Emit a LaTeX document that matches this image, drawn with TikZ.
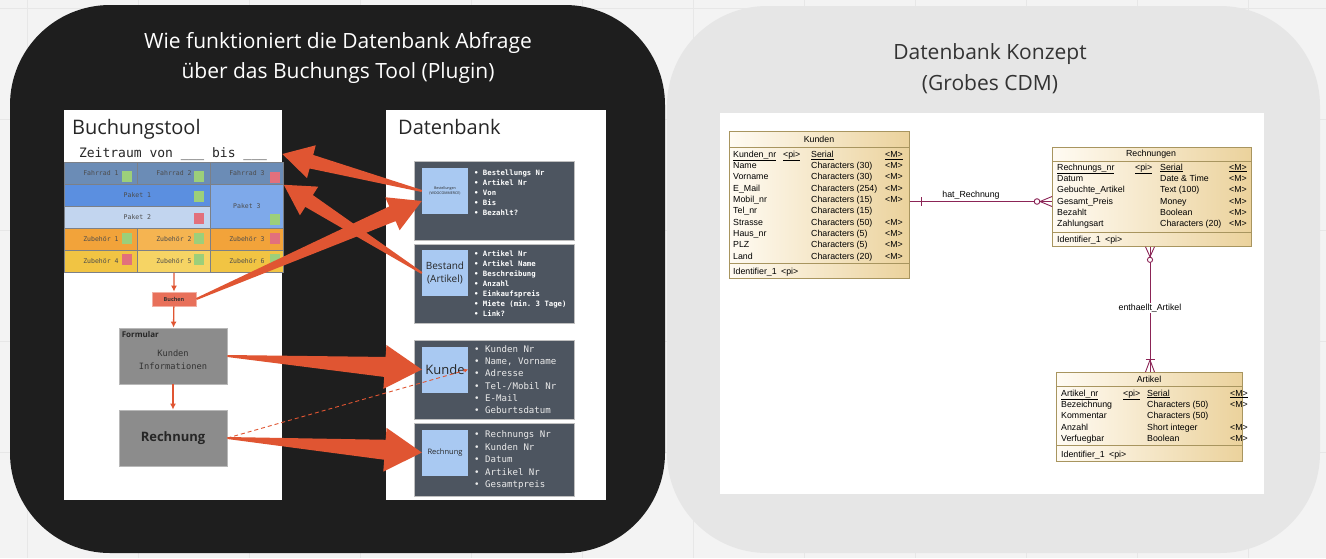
\documentclass[tikz,border=0pt]{standalone}
\usepackage{fontspec}
\setmainfont{Open Sans}
\setmonofont{DejaVu Sans Mono}
\newfontfamily\cdmfont{Liberation Sans}
\usepackage{tikz}
\usetikzlibrary{calc, positioning, arrows.meta}
\usepackage{xcolor}

\definecolor{leinwand}{HTML}{F3F3F3}
\definecolor{gitterlinie}{HTML}{E7E7E7}
\definecolor{schwarzpanel}{HTML}{1E1E1E}
\definecolor{graupanel}{HTML}{E6E6E6}
\definecolor{fahrradblau}{HTML}{6B8CB6}
\definecolor{paketblau}{HTML}{5B8FE0}
\definecolor{pakethell}{HTML}{C2D5EF}
\definecolor{paketmittel}{HTML}{7EA9EA}
\definecolor{zubehoerorange}{HTML}{F2A33A}
\definecolor{zubehoerhell}{HTML}{F5B451}
\definecolor{zubehoergelb}{HTML}{F1C443}
\definecolor{zubehoerblass}{HTML}{F6D464}
\definecolor{zellrand}{HTML}{7C8087}
\definecolor{frei}{HTML}{9CCF7A}
\definecolor{belegt}{HTML}{E2707C}
\definecolor{pfeilrot}{HTML}{E05532}
\definecolor{buchenrot}{HTML}{E8705A}
\definecolor{formgrau}{HTML}{8C8C8C}
\definecolor{dbschiefer}{HTML}{4D5560}
\definecolor{notizblau}{HTML}{A9C9F2}
\definecolor{cdmhell}{HTML}{FFFBF3}
\definecolor{cdmdunkel}{HTML}{EBD29C}
\definecolor{cdmrand}{HTML}{A8955F}
\definecolor{relrot}{HTML}{8B2456}

\tikzset{
  panel/.style={fill=white, anchor=north west, inner sep=0pt},
  kopf/.style={anchor=base west, inner sep=0pt, font=\fontsize{20}{24}\selectfont, text=black!85},
  cell/.style={draw=zellrand, line width=0.8pt, anchor=north west, inner sep=0pt,
    font=\ttfamily\fontsize{6.5}{8}\selectfont, text=black!70},
  ampel/.style={minimum width=10pt, minimum height=11pt, inner sep=0pt},
  flow/.style={draw=pfeilrot, line width=1.3pt, -{Latex[length=6pt, width=6pt]}},
  buchenbox/.style={fill=buchenrot, draw=buchenrot!55!white, line width=0.8pt, minimum width=44pt,
    minimum height=14pt, inner sep=0pt, font=\bfseries\fontsize{5.5}{6}\selectfont, text=black!80},
  grauform/.style={fill=formgrau, draw=black!28, line width=0.8pt, minimum width=108pt,
    minimum height=56pt, inner sep=0pt},
  dbbox/.style={fill=dbschiefer, draw=black!25, line width=0.8pt, anchor=north west,
    minimum width=160pt, inner sep=0pt},
  notiz/.style={fill=notizblau, minimum size=46pt, inner sep=0pt, align=center, text=black!85},
  liste/.style={anchor=base west, inner sep=0pt, align=left, text=white},
  entity/.style={draw=cdmrand, line width=0.8pt, anchor=north west, inner sep=0pt,
    left color=cdmhell, right color=cdmdunkel},
  entlinie/.style={draw=cdmrand, line width=0.8pt},
  enttitel/.style={inner sep=0pt, font=\cdmfont\fontsize{8.8}{10}\selectfont},
  attr/.style={anchor=base west, inner sep=0pt, align=left, font=\cdmfont\fontsize{8.8}{11.3}\selectfont},
  rel/.style={draw=relrot, line width=0.9pt},
  rellabel/.style={inner sep=1pt, font=\cdmfont\fontsize{8.8}{10}\selectfont},
}

% tapered block arrow: tail, tip, head length, head half width, shaft half width
\newcommand{\bigarrow}[5]{%
  \coordinate (pa) at (#1);
  \coordinate (pb) at (#2);
  \coordinate (pm) at ($(pb)!#3pt!(pa)$);
  \fill[pfeilrot] ($(pa)!1pt!90:(pb)$) -- ($(pm)!#5pt!90:(pb)$) -- ($(pm)!#4pt!90:(pb)$) -- (pb)
    -- ($(pm)!#4pt!-90:(pb)$) -- ($(pm)!#5pt!-90:(pb)$) -- ($(pa)!1pt!-90:(pb)$) -- cycle;
}

\begin{document}
\begin{tikzpicture}[x=1pt, y=-1pt]
  \useasboundingbox (0,0) rectangle (1326,558);
  % Canvas
  \fill[leinwand] (0,0) rectangle (1326,558);
  \foreach \gx in {27,138,...,1326} \draw[gitterlinie, line width=0.8pt] (\gx,0) -- (\gx,558);
  \foreach \gy in {8,119,...,558} \draw[gitterlinie, line width=0.8pt] (0,\gy) -- (1326,\gy);

  % Panels
  \fill[schwarzpanel, rounded corners=100pt] (10,5) rectangle (665,553);
  \fill[graupanel, rounded corners=100pt] (667,6) rectangle (1320,553);

  \node[align=center, text=white, font=\fontsize{21}{30}\selectfont] (titell) at (338,58)
    {Wie funktioniert die Datenbank Abfrage\\über das Buchungs Tool (Plugin)};
  \node[align=center, text=black!80, font=\fontsize{21}{31}\selectfont] (titelr) at (990,69)
    {Datenbank Konzept\\(Grobes CDM)};

  % Buchungstool
  \node[panel, minimum width=218pt, minimum height=390pt] (tool) at (64,110) {};
  \node[kopf] (toolt) at (72,134) {Buchungstool};
  \node[inner sep=0pt, font=\ttfamily\fontsize{13}{15}\selectfont, text=black!85] (zeit) at (173,154)
    {Zeitraum von \_\_\_ bis \_\_\_};

  \node[cell, fill=fahrradblau, minimum width=73pt, minimum height=22pt] (f1) at (64,162) {Fahrrad 1};
  \node[cell, fill=fahrradblau, minimum width=73pt, minimum height=22pt] (f2) at (137,162) {Fahrrad 2};
  \node[cell, fill=fahrradblau, minimum width=73pt, minimum height=22pt] (f3) at (210,162) {Fahrrad 3};
  \node[cell, fill=paketblau, minimum width=146pt, minimum height=22pt] (p1) at (64,184) {Paket 1};
  \node[cell, fill=pakethell, minimum width=146pt, minimum height=22pt] (p2) at (64,206) {Paket 2};
  \node[cell, fill=paketmittel, minimum width=73pt, minimum height=44pt] (p3) at (210,184) {Paket 3};
  \node[cell, fill=zubehoerorange, minimum width=73pt, minimum height=22pt] (z1) at (64,228) {Zubehör 1};
  \node[cell, fill=zubehoerhell, minimum width=73pt, minimum height=22pt] (z2) at (137,228) {Zubehör 2};
  \node[cell, fill=zubehoerorange, minimum width=73pt, minimum height=22pt] (z3) at (210,228) {Zubehör 3};
  \node[cell, fill=zubehoergelb, minimum width=73pt, minimum height=22pt] (z4) at (64,250) {Zubehör 4};
  \node[cell, fill=zubehoerblass, minimum width=73pt, minimum height=22pt] (z5) at (137,250) {Zubehör 5};
  \node[cell, fill=zubehoergelb, minimum width=73pt, minimum height=22pt] (z6) at (210,250) {Zubehör 6};

  \node[ampel, fill=frei] (f1a) at (127,176.5) {};
  \node[ampel, fill=frei] (f2a) at (199,176.5) {};
  \node[ampel, fill=belegt] (f3a) at (275,177.5) {};
  \node[ampel, fill=frei] (p1a) at (199,196.5) {};
  \node[ampel, fill=belegt] (p2a) at (199,218.5) {};
  \node[ampel, fill=frei] (p3a) at (275,219.5) {};
  \node[ampel, fill=frei] (z1a) at (127,238.5) {};
  \node[ampel, fill=frei] (z2a) at (199,238.5) {};
  \node[ampel, fill=belegt] (z3a) at (275,238.5) {};
  \node[ampel, fill=belegt] (z4a) at (127,259.5) {};
  \node[ampel, fill=frei] (z5a) at (199,259.5) {};
  \node[ampel, fill=frei] (z6a) at (275,259.5) {};

  \node[buchenbox] (buchen) at (174,299) {Buchen};
  \node[grauform] (form) at (173,356) {};
  \node[anchor=north west, inner sep=0pt, font=\bfseries\fontsize{8}{9}\selectfont, text=black!85] (formt)
    at ([shift={(3,4)}]form.north west) {Formular};
  \node[align=center, inner sep=0pt, font=\ttfamily\fontsize{8.7}{13}\selectfont, text=black!80] (formtext)
    at (173,360) {Kunden\\Informationen};
  \node[grauform, font=\bfseries\fontsize{13}{15}\selectfont, text=black!85] (rech) at (173,438) {Rechnung};

  \draw[flow] (z5.south) -- (buchen.north);
  \draw[flow] (buchen) -- (form);
  \draw[flow] (form) -- (rech);

  % Datenbank
  \node[panel, minimum width=220pt, minimum height=390pt] (db) at (386,110) {};
  \node[kopf] (dbt) at (398,134) {Datenbank};

  \node[dbbox, minimum height=79pt] (dbbest) at (414,161) {};
  \node[dbbox, minimum height=79pt] (dbbestand) at (414,244) {};
  \node[dbbox, minimum height=79pt] (dbkunde) at (414,340) {};
  \node[dbbox, minimum height=73pt] (dbrech) at (414,423) {};

  \node[notiz, font=\fontsize{3.6}{4.5}\selectfont] (best) at (445,191) {Bestellungen\\(WOOCOMMERCE)};
  \node[notiz, font=\fontsize{10}{13}\selectfont] (bestand) at (445,273) {Bestand\\(Artikel)};
  \node[notiz, font=\fontsize{13}{15}\selectfont] (kunde) at (445,369.5) {Kunde};
  \node[notiz, font=\fontsize{7.5}{9}\selectfont] (rechdb) at (445,452.5) {Rechnung};

  % lists: base sits on the last line
  \node[liste, font=\ttfamily\bfseries\fontsize{7.3}{10}\selectfont] (bestl) at (474,215.5)
    {• Bestellungs Nr\\• Artikel Nr\\• Von\\• Bis\\• Bezahlt?};
  \node[liste, font=\ttfamily\bfseries\fontsize{7.3}{10}\selectfont] (bestandl) at (474,316.5)
    {• Artikel Nr\\• Artikel Name\\• Beschreibung\\• Anzahl\\• Einkaufspreis\\• Miete (min. 3 Tage)\\• Link?};
  \node[liste, text=black!8, font=\ttfamily\fontsize{9.1}{12.2}\selectfont] (kundel) at (474,413.5)
    {• Kunden Nr\\• Name, Vorname\\• Adresse\\• Tel-/Mobil Nr\\• E-Mail\\• Geburtsdatum};
  \node[liste, text=black!8, font=\ttfamily\fontsize{9.1}{12.5}\selectfont] (rechl) at (474,487.5)
    {• Rechnungs Nr\\• Kunden Nr\\• Datum\\• Artikel Nr\\• Gesamtpreis};

  % Block arrows
  \bigarrow{best.west}{tool.east |- zeit}{30}{17}{7}
  \bigarrow{bestand.west}{f3.south east}{30}{17}{7}
  \bigarrow{buchen.east}{$(best.west)+(0,10)$}{32}{18}{8}
  \bigarrow{form.east}{kunde.west}{37}{22}{10}
  \bigarrow{rech.east}{rechdb.west}{37}{22}{10}
  \draw[pfeilrot, line width=0.9pt, dash pattern=on 4pt off 3pt, -{Latex[length=4pt, width=4pt]}]
    (rech.east) -- (kunde.east);

  % CDM
  \node[panel, minimum width=544pt, minimum height=381pt] (cdm) at (720,113) {};

  % Kunden
  \node[entity, minimum width=180pt, minimum height=147pt] (kunden) at (729,131) {};
  \draw[entlinie] (kunden.north west) ++(0,16) -- ++(180,0);
  \draw[entlinie] (kunden.south west) ++(0,-15) -- ++(180,0);
  \node[enttitel] (kundent) at (819,139) {Kunden};
  \node[attr] (kname) at (733,259) {\underline{Kunden\_nr}\\Name\\Vorname\\E\_Mail\\Mobil\_nr\\Tel\_nr\\Strasse\\Haus\_nr\\PLZ\\Land};
  \node[attr] (kpi) at (783,157.3) {\underline{<pi>}};
  \node[attr] (ktyp) at (811,259) {\underline{Serial}\\Characters (30)\\Characters (30)\\Characters (254)\\Characters (15)\\Characters (15)\\Characters (50)\\Characters (5)\\Characters (5)\\Characters (20)};
  \node[attr] (kman) at (885,259) {\underline{<M>}\\<M>\\<M>\\<M>\\<M>\\\mbox{}\\<M>\\<M>\\<M>\\<M>};
  \node[attr] (kid) at (733,274) {Identifier\_1\enspace<pi>};

  % Rechnungen
  \node[entity, minimum width=199pt, minimum height=99pt] (rechnungen) at (1052,147) {};
  \draw[entlinie] (rechnungen.north west) ++(0,14) -- ++(199,0);
  \draw[entlinie] (rechnungen.south west) ++(0,-14) -- ++(199,0);
  \node[enttitel] (rechnungent) at (1151,154) {Rechnungen};
  \node[attr] (rname) at (1057,226.6) {\underline{Rechnungs\_nr}\\Datum\\Gebuchte\_Artikel\\Gesamt\_Preis\\Bezahlt\\Zahlungsart};
  \node[attr] (rpi) at (1135,170.1) {\underline{<pi>}};
  \node[attr] (rtyp) at (1160,226.6) {\underline{Serial}\\Date \& Time\\Text (100)\\Money\\Boolean\\Characters (20)};
  \node[attr] (rman) at (1229,226.6) {\underline{<M>}\\<M>\\<M>\\<M>\\<M>\\<M>};
  \node[attr] (rid) at (1057,242) {Identifier\_1\enspace<pi>};

  % Artikel
  \node[entity, minimum width=186pt, minimum height=89pt] (artikel) at (1056,372) {};
  \draw[entlinie] (artikel.north west) ++(0,14) -- ++(186,0);
  \draw[entlinie] (artikel.south west) ++(0,-16) -- ++(186,0);
  \node[enttitel] (artikelt) at (1149,379) {Artikel};
  \node[attr] (aname) at (1061,441.3) {\underline{Artikel\_nr}\\Bezeichnung\\Kommentar\\Anzahl\\Verfuegbar};
  \node[attr] (api) at (1123,396.1) {\underline{<pi>}};
  \node[attr] (atyp) at (1147,441.3) {\underline{Serial}\\Characters (50)\\Characters (50)\\Short integer\\Boolean};
  \node[attr] (aman) at (1230,441.3) {\underline{<M>}\\<M>\\\mbox{}\\<M>\\<M>};
  \node[attr] (aid) at (1061,457) {Identifier\_1\enspace<pi>};

  % Relations
  \coordinate (hr) at (980,201.5);
  \coordinate (ha) at (kunden.east |- hr);
  \coordinate (hb) at (rechnungen.west |- hr);
  \draw[rel] (ha) -- (hb);
  \draw[rel] ($(ha)+(12,-4.5)$) -- ($(ha)+(12,4.5)$);
  \draw[rel] ($(hb)+(-12,0)$) -- ($(hb)+(0,-5)$) ($(hb)+(-12,0)$) -- ($(hb)+(0,5)$);
  \draw[rel, fill=white] ($(hb)+(-15,0)$) circle (2.8);
  \node[rellabel] (hrl) at (971,195) {hat\_Rechnung};

  \coordinate (er) at (1150,308);
  \coordinate (ea) at (rechnungen.south -| er);
  \coordinate (eb) at (artikel.north -| er);
  \draw[rel] (ea) -- (eb);
  \draw[rel] ($(ea)+(0,10)$) -- ($(ea)+(-4.5,0)$) ($(ea)+(0,10)$) -- ($(ea)+(4.5,0)$);
  \draw[rel, fill=white] ($(ea)+(0,13)$) circle (2.6);
  \draw[rel] ($(eb)+(-4.5,-13)$) -- ($(eb)+(4.5,-13)$);
  \draw[rel] ($(eb)+(0,-12)$) -- ($(eb)+(-4.5,0)$) ($(eb)+(0,-12)$) -- ($(eb)+(4.5,0)$);
  \node[rellabel, fill=white] (erl) at (er) {enthaellt\_Artikel};
\end{tikzpicture}
\end{document}
